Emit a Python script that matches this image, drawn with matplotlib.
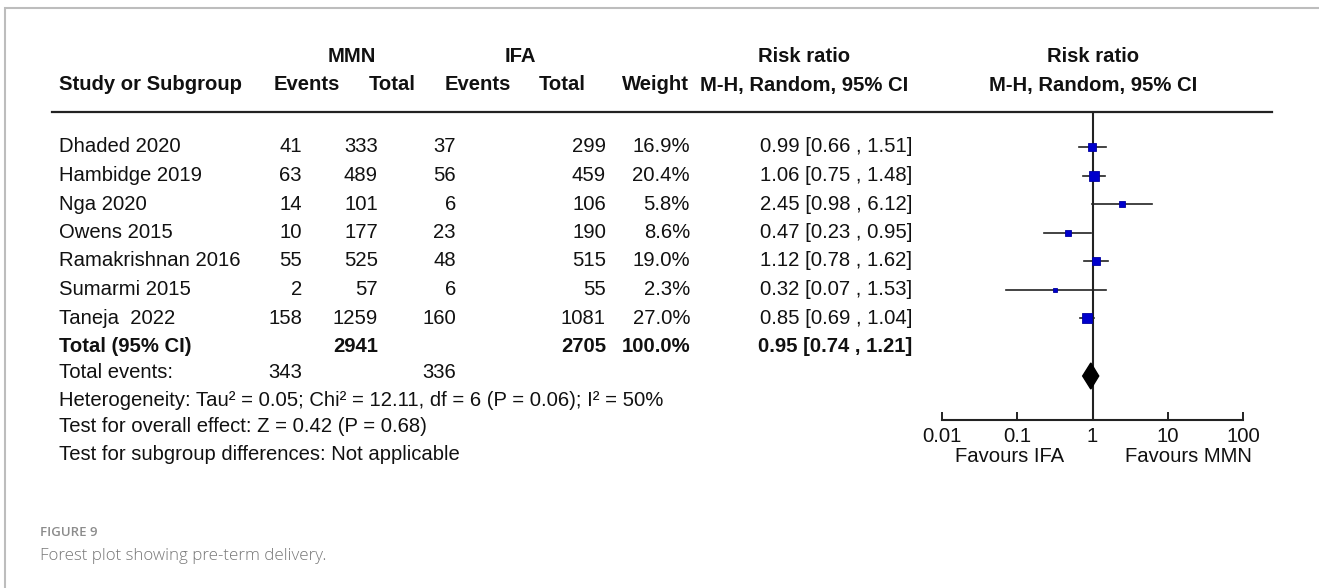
import matplotlib.pyplot as plt
import numpy as np
from matplotlib.patches import Polygon

plt.rcParams['font.family'] = ['Liberation Sans', 'DejaVu Sans']

# data
studies = ["Dhaded 2020", "Hambidge 2019", "Nga 2020", "Owens 2015",
           "Ramakrishnan 2016", "Sumarmi 2015", "Taneja  2022"]
mmn_events = [41, 63, 14, 10, 55, 2, 158]
mmn_total = [333, 489, 101, 177, 525, 57, 1259]
ifa_events = [37, 56, 6, 23, 48, 6, 160]
ifa_total = [299, 459, 106, 190, 515, 55, 1081]
weights = [16.9, 20.4, 5.8, 8.6, 19.0, 2.3, 27.0]
rr = [0.99, 1.06, 2.45, 0.47, 1.12, 0.32, 0.85]
rr_lo = [0.66, 0.75, 0.98, 0.23, 0.78, 0.07, 0.69]
rr_hi = [1.51, 1.48, 6.12, 0.95, 1.62, 1.53, 1.04]

total_n = [2941, 2705]
total_events = [343, 336]
pooled = [0.95, 0.74, 1.21]
ticks = [0.01, 0.1, 1, 10, 100]
tick_labels = ["0.01", "0.1", "1", "10", "100"]

W, H = 1319, 588
FS = 14.6
TXT = '#111111'

fig = plt.figure(figsize=(W / 100, H / 100), dpi=100)
bg = fig.add_axes([0, 0, 1, 1])
bg.set_xlim(0, W)
bg.set_ylim(H, 0)
bg.axis('off')

# frame of the figure panel
bg.plot([5, 5, W], [H, 8, 8], color='#bdbdbd', lw=1.5, solid_joinstyle='miter')

# column headers
def put(x, y, s, ha='left', bold=False, **kw):
    bg.text(x, y, s, ha=ha, va='center', fontsize=FS, color=TXT,
            fontweight='bold' if bold else 'normal', **kw)

L = 59
put(352, 57, "MMN", 'center', True)
put(520, 57, "IFA", 'center', True)
put(804, 57, "Risk ratio", 'center', True)
put(1093, 57, "Risk ratio", 'center', True)
put(L, 85, "Study or Subgroup", bold=True)
put(307, 85, "Events", 'center', True)
put(392, 85, "Total", 'center', True)
put(478, 85, "Events", 'center', True)
put(562, 85, "Total", 'center', True)
put(689, 85, "Weight", 'right', True)
put(804, 85, "M-H, Random, 95% CI", 'center', True)
put(1093, 85, "M-H, Random, 95% CI", 'center', True)
bg.plot([52, 1272], [112, 112], color='#222222', lw=1.6)

# study rows
row_y = 147 + 28.5 * np.arange(len(studies))
for i, y in enumerate(row_y):
    put(L, y, studies[i])
    put(302, y, str(mmn_events[i]), 'right')
    put(378, y, str(mmn_total[i]), 'right')
    put(456, y, str(ifa_events[i]), 'right')
    put(606, y, str(ifa_total[i]), 'right')
    put(690, y, f"{weights[i]:.1f}%", 'right')
    put(912, y, f"{rr[i]:.2f} [{rr_lo[i]:.2f} , {rr_hi[i]:.2f}]", 'right')

# totals
yt = 347
put(L, yt, "Total (95% CI)", bold=True)
put(378, yt, str(total_n[0]), 'right', True)
put(606, yt, str(total_n[1]), 'right', True)
put(690, yt, f"{sum(weights):.1f}%", 'right', True)
put(912, yt, f"{pooled[0]:.2f} [{pooled[1]:.2f} , {pooled[2]:.2f}]", 'right', True)
put(L, 373, "Total events:")
put(302, 373, str(total_events[0]), 'right')
put(456, 373, str(total_events[1]), 'right')
put(L, 400, "Heterogeneity: Tau² = 0.05; Chi² = 12.11, df = 6 (P = 0.06); I² = 50%")
put(L, 427, "Test for overall effect: Z = 0.42 (P = 0.68)")
put(L, 455, "Test for subgroup differences: Not applicable")

# caption
bg.text(40, 532, "FIGURE 9", ha='left', va='center', fontsize=9.5, color='#8c8c8c',
        family=['Open Sans', 'DejaVu Sans'], fontweight='semibold')
bg.text(40, 556, "Forest plot showing pre-term delivery.", ha='left', va='center',
        fontsize=12.2, color='#777777', family=['Open Sans', 'DejaVu Sans'], fontweight='light')

# forest plot panel, y in pixel rows so it lines up with the table
x0, x1, ytop, ybot = 942, 1243, 112, 420
ax = fig.add_axes([x0 / W, 1 - ybot / H, (x1 - x0) / W, (ybot - ytop) / H])
ax.set_xscale('log')
ax.set_xlim(0.01, 100)
ax.set_ylim(ybot, ytop)
ax.patch.set_alpha(0)
for s in ['top', 'left', 'right']:
    ax.spines[s].set_visible(False)
ax.spines['bottom'].set_linewidth(1.5)
ax.spines['bottom'].set_color('#222222')
ax.set_yticks([])
ax.set_xticks(ticks)
ax.set_xticklabels(tick_labels)
ax.minorticks_off()
ax.tick_params(axis='x', direction='in', length=6, width=1.4, color='#222222',
               labelsize=FS, labelcolor=TXT, pad=5)
ax.axvline(1, color='#222222', lw=1.5, zorder=1)

for i, y in enumerate(row_y):
    ax.plot([rr_lo[i], rr_hi[i]], [y, y], color='#222222', lw=1.2, zorder=2)
    side = (4 + 0.25 * weights[i]) * 0.72
    ax.plot(rr[i], y, marker='s', ms=side, mfc='#0000cc', mec='#0000a0', mew=0.6, zorder=3)

yd = 376
diamond = Polygon([[pooled[1], yd], [pooled[0], yd - 13], [pooled[2], yd], [pooled[0], yd + 13]],
                  closed=True, facecolor='black', edgecolor='black', zorder=4)
ax.add_patch(diamond)

bg.text(1010, 457, "Favours IFA", ha='center', va='center', fontsize=FS, color=TXT)
bg.text(1188, 457, "Favours MMN", ha='center', va='center', fontsize=FS, color=TXT)

fig.savefig('out.png', dpi=100, facecolor='white')
